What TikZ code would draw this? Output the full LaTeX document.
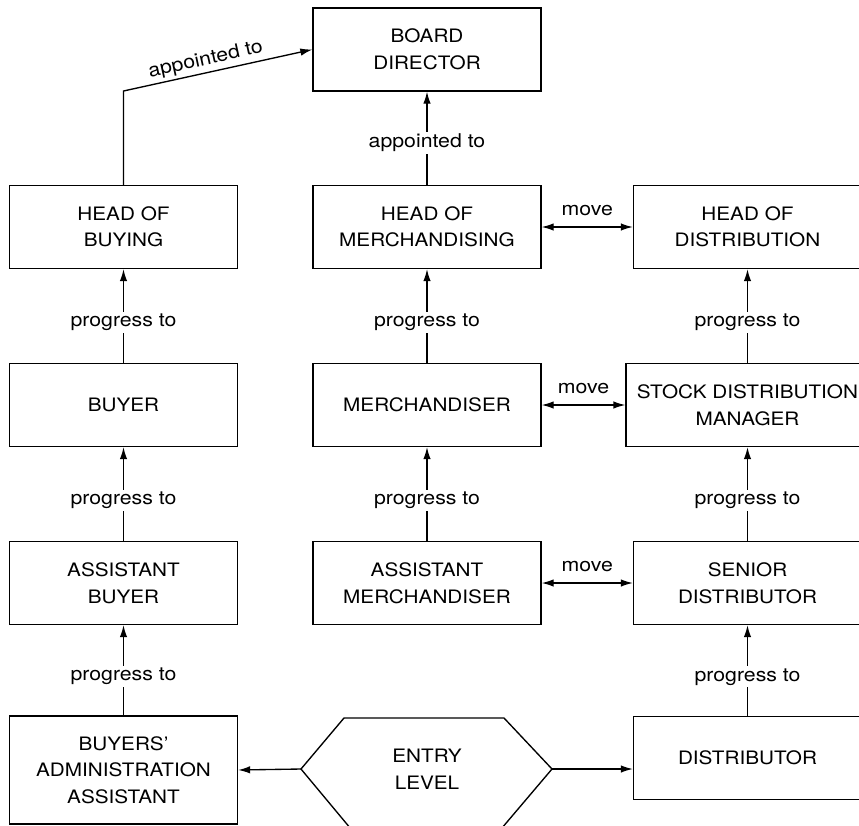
\documentclass[tikz,border=0pt]{standalone}
\usepackage{fontspec}
\setmainfont[FakeStretch=1.12,Ligatures=TeX]{TeX Gyre Heros}
\usetikzlibrary{arrows.meta}
\begin{document}
\begin{tikzpicture}[x=1pt,y=-1pt]
			\tikzstyle{fleche}=[->,>={Latex[length=12pt,width=7.5pt]},line width=1.35pt]
			\tikzstyle{trait}=[line width=1.35pt]
			\tikzstyle{boite}=[draw,line width=1.35pt,minimum width=228pt,minimum height=83pt,inner sep=0pt,align=center,font=\fontsize{18.5}{26.5}\selectfont]
			\tikzstyle{etiquette}=[fill=white,inner sep=2pt,font=\fontsize{19}{22}\selectfont]
			\tikzstyle{mouvement}=[above=9pt,inner sep=2pt,font=\fontsize{19}{22}\selectfont]
			\def\ColonneA{123.5}
			\def\ColonneB{427}
			\def\ColonneC{747.5}
			\def\NiveauA{49.5}
			\def\NiveauB{227}
			\def\NiveauC{405}
			\def\NiveauD{583}
			\def\NiveauE{758}
			\def\NiveauF{769}
			\path[use as bounding box,clip] (0,0) rectangle (859,825);
			\node[boite] (DG) at ({\ColonneB},{\NiveauA}) {BOARD\\DIRECTOR};
			\node[boite] (CA) at ({\ColonneA},{\NiveauB}) {HEAD OF\\BUYING};
			\node[boite] (CM) at ({\ColonneB},{\NiveauB}) {HEAD OF\\MERCHANDISING};
			\node[boite] (CD) at ({\ColonneC},{\NiveauB}) {HEAD OF\\DISTRIBUTION};
			\node[boite] (A) at ({\ColonneA},{\NiveauC}) {BUYER};
			\node[boite] (M) at ({\ColonneB},{\NiveauC}) {MERCHANDISER};
			\node[boite,minimum width=243pt] (RS) at ({\ColonneC},{\NiveauC}) {STOCK DISTRIBUTION\\MANAGER};
			\node[boite] (AA) at ({\ColonneA},{\NiveauD}) {ASSISTANT\\BUYER};
			\node[boite] (AM) at ({\ColonneB},{\NiveauD}) {ASSISTANT\\MERCHANDISER};
			\node[boite] (DS) at ({\ColonneC},{\NiveauD}) {SENIOR\\DISTRIBUTOR};
			\node[boite,minimum height=108pt] (AAA) at ({\ColonneA},770) {BUYERS'\\ADMINISTRATION\\ASSISTANT};
			\node[boite] (D) at ({\ColonneC},{\NiveauE}) {DISTRIBUTOR};
			\coordinate (NEg) at (301,{\NiveauF});
			\coordinate (NEd) at (552,{\NiveauF});
			\draw[trait] (NEg) -- (344,718) -- (504,718) -- (NEd) -- (496,835) -- (356,835) -- cycle;
			\node[align=center,font=\fontsize{18.5}{26.5}\selectfont] (NE) at ({\ColonneB},{\NiveauF}) {ENTRY\\LEVEL};
			\coordinate (coin) at ({\ColonneA},91);
			\draw[fleche] (CA.north) -- (coin) -- (DG.west) node[pos=0.45,sloped,above=1pt,etiquette,fill=none] {appointed to};
			\draw[fleche] (CM)--(DG) node[etiquette,pos=0.45] {appointed to};
			\draw[fleche] (A)--(CA) node[etiquette,pos=0.43] {progress to};
			\draw[fleche] (AA)--(A) node[etiquette,pos=0.43] {progress to};
			\draw[fleche] (AAA)--(AA) node[etiquette,pos=0.43] {progress to};
			\draw[fleche] (M)--(CM) node[etiquette,pos=0.43] {progress to};
			\draw[fleche] (AM)--(M) node[etiquette,pos=0.43] {progress to};
			\draw[fleche] (RS)--(CD) node[etiquette,pos=0.43] {progress to};
			\draw[fleche] (DS)--(RS) node[etiquette,pos=0.43] {progress to};
			\draw[fleche] (D)--(DS) node[etiquette,pos=0.43] {progress to};
			\draw[fleche,<->] (CM)--(CD) node[mouvement,midway] {move};
			\draw[fleche,<->] (M)--(RS) node[mouvement,midway] {move};
			\draw[fleche,<->] (AM)--(DS) node[mouvement,midway] {move};
			\draw[fleche] (NEg)--(AAA.east);
			\draw[fleche] (NEd)--(NEd-|D.west);
		\end{tikzpicture}
\end{document}
